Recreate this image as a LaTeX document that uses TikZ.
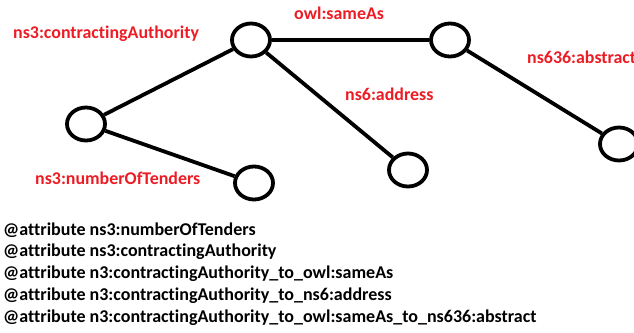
\documentclass[tikz,border=0pt]{standalone}
\usepackage{fontspec}
\setmainfont{Carlito}[Ligatures={NoCommon,NoRequired,NoContextual}]
\usetikzlibrary{shapes.geometric}
\definecolor{lblred}{RGB}{237,28,36}
\tikzset{
  vertex/.style={ellipse, draw, line width=3.8pt, minimum width=38pt, minimum height=33pt, inner sep=0pt},
  edge/.style={line width=3.8pt},
  lbl/.style={anchor=base west, inner sep=0pt, text=lblred, font=\fontsize{17.9}{17.9}\selectfont\bfseries},
  attr/.style={anchor=base west, inner sep=0pt, font=\fontsize{18}{18}\selectfont\bfseries}
}
\begin{document}
\begin{tikzpicture}[x=1pt,y=-1pt]
    \useasboundingbox (0,0) rectangle (634,332);
    \clip (0,0) rectangle (634,332);

    % Graph nodes
    \node[vertex] (CA) at (251,40) {};
    \node[vertex] (root) at (86,124) {};
    \node[vertex] (tenders) at (254,183) {};
    \node[vertex] (same) at (450,40) {};
    \node[vertex] (addr) at (408,170) {};
    \node[vertex] (abs) at (619,144) {};

    % Edges
    \draw[edge] (root) -- (CA);
    \draw[edge] (root) -- (tenders);
    \draw[edge] (CA) -- (same);
    \draw[edge] (CA) -- (addr);
    \draw[edge] (same) -- (abs);

    % Edge labels
    \node[lbl] (lCA) at (13,38) {ns3:contractingAuthority};
    \node[lbl] (lten) at (35,184) {ns3:numberOfTenders};
    \node[lbl] (lsame) at (294,19) {owl:sameAs};
    \node[lbl] (laddr) at (345,100) {ns6:address};
    \node[lbl] (labs) at (527,63) {ns636:abstract};

    % Attribute list
    \foreach \t [count=\i] in {ns3:numberOfTenders,
        ns3:contractingAuthority,
        n3:contractingAuthority\_to\_owl:sameAs,
        n3:contractingAuthority\_to\_ns6:address,
        n3:contractingAuthority\_to\_owl:sameAs\_to\_ns636:abstract}
      \node[attr] (attr\i) at (3,{235+21.75*(\i-1)}) {@attribute \t};
\end{tikzpicture}
\end{document}
